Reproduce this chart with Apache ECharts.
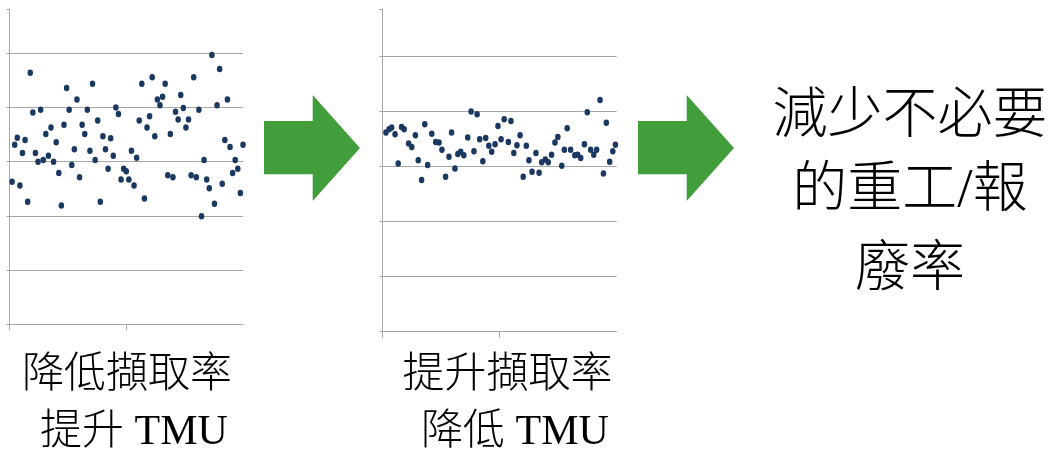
<!DOCTYPE html>
<html>
<head>
<meta charset="utf-8">
<script src="https://cdn.jsdelivr.net/npm/echarts@6/dist/echarts.min.js"></script>
<style>
  html, body { margin: 0; padding: 0; background: #fff; }
  #chart { width: 1055px; height: 455px; }
</style>
</head>
<body>
<div id="chart"></div>
<script>
// before: sample index 1..90, measured value
const beforeY = [
  26.3, 33.1, 34.4, 25.6, 31.6, 34.0, 22.6, 46.4, 39.1, 31.6,
  30.0, 39.6, 30.3, 35.1, 31.1, 36.3, 30.0, 33.6, 27.9, 21.9,
  36.8, 43.6, 39.6, 29.4, 32.3, 41.5, 27.1, 36.8, 35.1, 39.6,
  32.0, 44.4, 30.3, 37.6, 22.6, 34.7, 32.3, 28.7, 34.3, 31.1,
  40.0, 38.8, 26.7, 28.7, 28.2, 26.7, 32.0, 25.6, 30.7, 37.6,
  44.4, 23.2, 36.3, 38.4, 45.6, 34.7, 41.5, 40.4, 42.0, 44.4,
  27.5, 35.1, 27.1, 39.2, 37.8, 42.3, 39.9, 36.3, 37.8, 27.5,
  45.6, 27.1, 39.6, 19.9, 30.3, 26.7, 25.1, 49.7, 22.2, 40.4,
  47.1, 25.9, 34.0, 41.5, 32.7, 27.9, 30.3, 28.7, 24.2, 33.1
]

// after: sample position and measured value
const afterX = [
  1.4, 2.6, 3.6, 4.9, 6.1, 7.4, 8.4, 10.1, 11.3, 12.7,
  13.8, 15.1, 16.3, 17.4, 19.0, 20.5, 21.8, 22.9, 24.3, 25.6,
  26.6, 27.9, 29.0, 30.1, 31.3, 32.8, 34.1, 35.2, 36.4, 37.4,
  38.6, 39.7, 40.9, 42.0, 43.3, 44.4, 45.6, 46.8, 48.4, 49.4,
  50.5, 51.7, 52.9, 54.1, 55.3, 56.3, 57.5, 59.0, 60.2, 61.2,
  62.6, 63.7, 65.0, 66.3, 67.4, 68.9, 69.9, 71.0, 72.3, 73.9,
  75.0, 76.2, 77.6, 78.7, 80.0, 81.2, 82.3, 83.6, 84.9, 86.0,
  87.3, 88.5, 89.5
]
const afterY = [
  36.1, 36.7, 37.0, 35.8, 30.5, 37.1, 36.7, 34.1, 33.5, 35.6,
  31.1, 27.5, 37.6, 30.2, 35.9, 34.4, 34.3, 33.0, 28.1, 31.7,
  36.1, 29.6, 32.2, 32.6, 32.0, 35.2, 39.9, 32.7, 39.4, 34.9,
  30.9, 35.1, 33.7, 32.6, 34.0, 37.3, 34.9, 38.5, 34.4, 38.2,
  32.4, 33.8, 35.6, 28.1, 33.7, 31.1, 29.0, 32.4, 28.8, 30.7,
  31.2, 30.7, 32.1, 34.3, 35.3, 30.1, 33.0, 36.9, 33.0, 32.0,
  32.1, 31.5, 34.0, 39.8, 33.0, 32.1, 33.0, 42.0, 28.7, 37.9,
  30.8, 32.7, 33.9
]

const xTicks = [0, 45]
const beforeLabel = ['降低擷取率', '提升 TMU']
const afterLabel = ['提升擷取率', '降低 TMU']
const resultLabel = ['減少不必要', '的重工/報', '廢率']

const gridColor = '#a6a6a6'
const dotColor = '#1a3860'
const arrowColor = '#419e3b'
const labelFont = '300 42px "Liberation Serif", "Noto Sans CJK TC"'
const bigFont = '300 55px "Liberation Serif", "Noto Sans CJK TC"'

function makeXAxis(gridIndex) {
  return {
    type: 'value', gridIndex: gridIndex, min: 0, max: 90, interval: 45,
    axisLine: { show: true, lineStyle: { color: gridColor, width: 1 } },
    axisTick: { show: true, length: 6, customValues: xTicks, lineStyle: { color: gridColor } },
    axisLabel: { show: false },
    splitLine: { show: false }
  }
}

function makeYAxis(gridIndex, max) {
  return {
    type: 'value', gridIndex: gridIndex, min: 0, max: max, interval: 10,
    axisLine: { show: true, onZero: false, lineStyle: { color: gridColor, width: 1 } },
    axisTick: { show: true, length: 3, lineStyle: { color: gridColor } },
    axisLabel: { show: false },
    splitLine: { show: true, showMaxLine: false, lineStyle: { color: gridColor, width: 1 } }
  }
}

function arrow(dx) {
  return {
    type: 'polygon',
    shape: {
      points: [
        [264 + dx, 121], [312.7 + dx, 121], [312.7 + dx, 95], [360 + dx, 148],
        [312.7 + dx, 201], [312.7 + dx, 174.3], [264 + dx, 174.3]
      ]
    },
    style: { fill: arrowColor }
  }
}

function textLine(str, x, y, font) {
  return {
    type: 'text', x: x, y: y,
    style: { text: str, font: font, fill: '#000', align: 'center', verticalAlign: 'middle' }
  }
}

const dotSymbol = 'path://M1,0A1,1,0,1,1,-1,0A1,1,0,1,1,1,0Z'

const chart = echarts.init(document.getElementById('chart'), null, { renderer: 'canvas' })
chart.setOption({
  backgroundColor: '#fff',
  animation: false,
  grid: [
    { left: 9.5, top: 9, width: 233.5, height: 315 },
    { left: 382.3, top: 9, width: 234.4, height: 322.7 }
  ],
  xAxis: [makeXAxis(0), makeXAxis(1)],
  yAxis: [makeYAxis(0, 58.2), makeYAxis(1, 58.5)],
  series: [
    {
      type: 'scatter', xAxisIndex: 0, yAxisIndex: 0,
      symbol: dotSymbol, symbolSize: [5.5, 6.5],
      itemStyle: { color: dotColor, opacity: 1 },
      data: beforeY.map((v, i) => [i + 1, v])
    },
    {
      type: 'scatter', xAxisIndex: 1, yAxisIndex: 1,
      symbol: dotSymbol, symbolSize: [5.5, 6.5],
      itemStyle: { color: dotColor, opacity: 1 },
      data: afterX.map((x, i) => [x, afterY[i]])
    }
  ],
  graphic: [
    arrow(0),
    arrow(374),
    textLine(beforeLabel[0], 127, 376, labelFont),
    textLine(beforeLabel[1], 134, 433, labelFont),
    textLine(afterLabel[0], 507.5, 376, labelFont),
    textLine(afterLabel[1], 515, 433, labelFont),
    textLine(resultLabel[0], 910, 118, bigFont),
    textLine(resultLabel[1], 910, 192, bigFont),
    textLine(resultLabel[2], 910, 271, bigFont)
  ]
})
</script>
</body>
</html>
